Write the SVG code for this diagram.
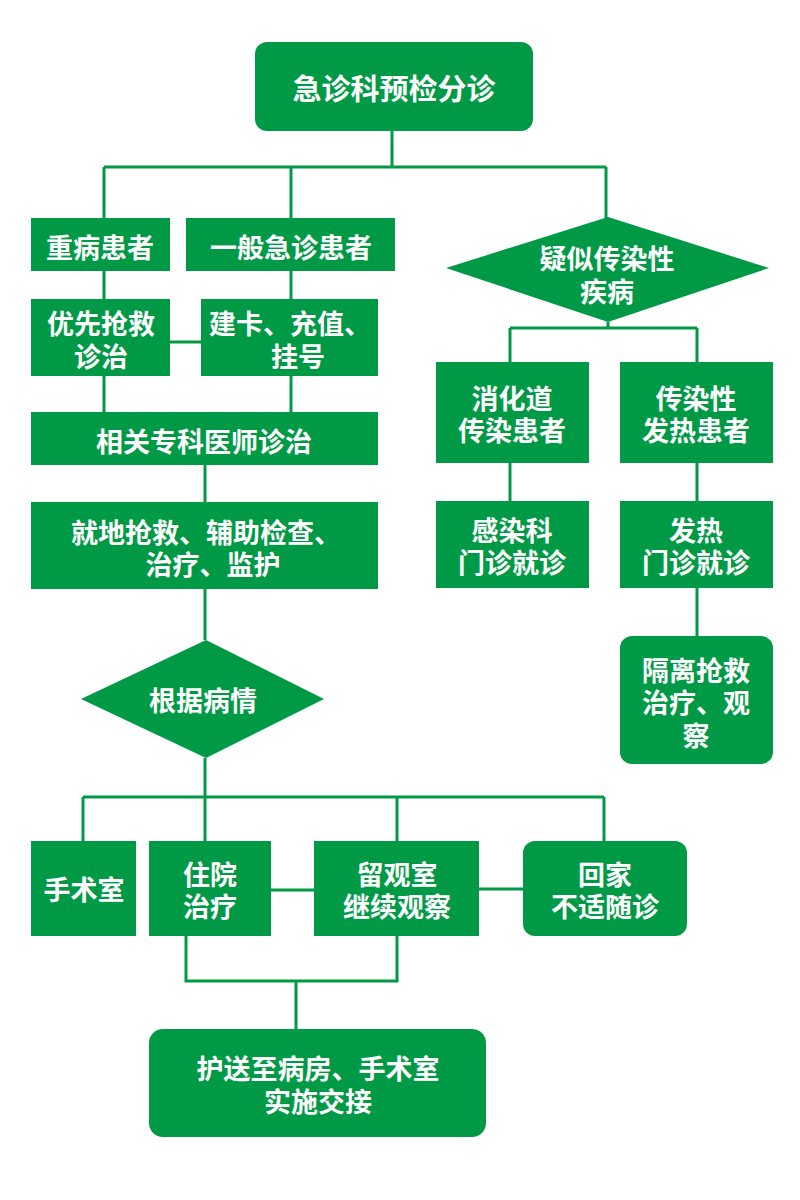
<svg xmlns="http://www.w3.org/2000/svg" width="800" height="1200" viewBox="0 0 800 1200">
<style>
.n{fill:#009a46}
.t{fill:#fff;font-family:"Noto Sans CJK SC","Noto Sans",sans-serif;font-size:27px;font-weight:bold;text-anchor:middle;dominant-baseline:central}
.c{stroke:#009a46;stroke-width:3;fill:none}
</style>
<rect width="800" height="1200" fill="#fff"/>
<g id="connectors" class="c">
<path d="M392 131V167M104 167H606M104 167V218M291 167V218M606 167V218"/>
<path d="M104 271V299M291 271V299M170 342H201M104 376V412M291 376V412"/>
<path d="M205 465V502M205 589V640"/>
<path d="M608 322V328M510 328H697M510 328V362M697 328V362M510 463V501M697 463V501M697 588V636"/>
<path d="M205 758V797M83 797H604M83 797V841M205 797V841M397 797V841M604 797V841"/>
<path d="M271 890H314M479 889H523"/>
<path d="M186 936V981H397V936M296 981V1029"/>
</g>
<g id="n1"><rect class="n" x="255" y="42" width="278" height="89" rx="12"/><text class="t" x="394" y="87" style="font-size:29px">急诊科预检分诊</text></g>
<g id="n2"><rect class="n" x="31" y="218" width="139" height="53"/><text class="t" x="100" y="246">重病患者</text></g>
<g id="n3"><rect class="n" x="186" y="218" width="209" height="53"/><text class="t" x="291" y="246">一般急诊患者</text></g>
<g id="n4"><rect class="n" x="31" y="299" width="139" height="77"/><text class="t" x="101" y="322">优先抢救</text><text class="t" x="101" y="355">诊治</text></g>
<g id="n5"><rect class="n" x="201" y="299" width="177" height="77"/><text class="t" x="290" y="322">建卡、充值、</text><text class="t" x="298" y="355">挂号</text></g>
<g id="n6"><rect class="n" x="31" y="412" width="347" height="53"/><text class="t" x="204" y="440">相关专科医师诊治</text></g>
<g id="n7"><rect class="n" x="31" y="502" width="347" height="87"/><text class="t" x="206" y="531">就地抢救、辅助检查、</text><text class="t" x="213" y="563">治疗、监护</text></g>
<g id="n8"><polygon class="n" points="206,640 324,699 206,758 81,699"/><text class="t" x="203" y="699">根据病情</text></g>
<g id="n9"><polygon class="n" points="608,217 769,268 608,322 446,268"/><text class="t" x="607" y="257">疑似传染性</text><text class="t" x="607" y="290">疾病</text></g>
<g id="n10"><rect class="n" x="436" y="362" width="153" height="101"/><text class="t" x="512" y="397">消化道</text><text class="t" x="512" y="429">传染患者</text></g>
<g id="n11"><rect class="n" x="620" y="362" width="153" height="101"/><text class="t" x="696" y="397">传染性</text><text class="t" x="696" y="429">发热患者</text></g>
<g id="n12"><rect class="n" x="436" y="501" width="153" height="87"/><text class="t" x="512" y="529">感染科</text><text class="t" x="512" y="561">门诊就诊</text></g>
<g id="n13"><rect class="n" x="620" y="501" width="153" height="87"/><text class="t" x="696" y="529">发热</text><text class="t" x="696" y="561">门诊就诊</text></g>
<g id="n14"><rect class="n" x="620" y="636" width="153" height="128" rx="12"/><text class="t" x="696" y="669">隔离抢救</text><text class="t" x="696" y="701">治疗、观</text><text class="t" x="696" y="734">察</text></g>
<g id="n15"><rect class="n" x="31" y="841" width="105" height="95"/><text class="t" x="84" y="888">手术室</text></g>
<g id="n16"><rect class="n" x="149" y="841" width="122" height="95"/><text class="t" x="210" y="873">住院</text><text class="t" x="210" y="905">治疗</text></g>
<g id="n17"><rect class="n" x="314" y="841" width="165" height="95"/><text class="t" x="397" y="873">留观室</text><text class="t" x="397" y="905">继续观察</text></g>
<g id="n18"><rect class="n" x="523" y="841" width="164" height="95" rx="12"/><text class="t" x="605" y="873">回家</text><text class="t" x="605" y="905">不适随诊</text></g>
<g id="n19"><rect class="n" x="149" y="1029" width="337" height="108" rx="14"/><text class="t" x="318" y="1067">护送至病房、手术室</text><text class="t" x="318" y="1100">实施交接</text></g>
</svg>
